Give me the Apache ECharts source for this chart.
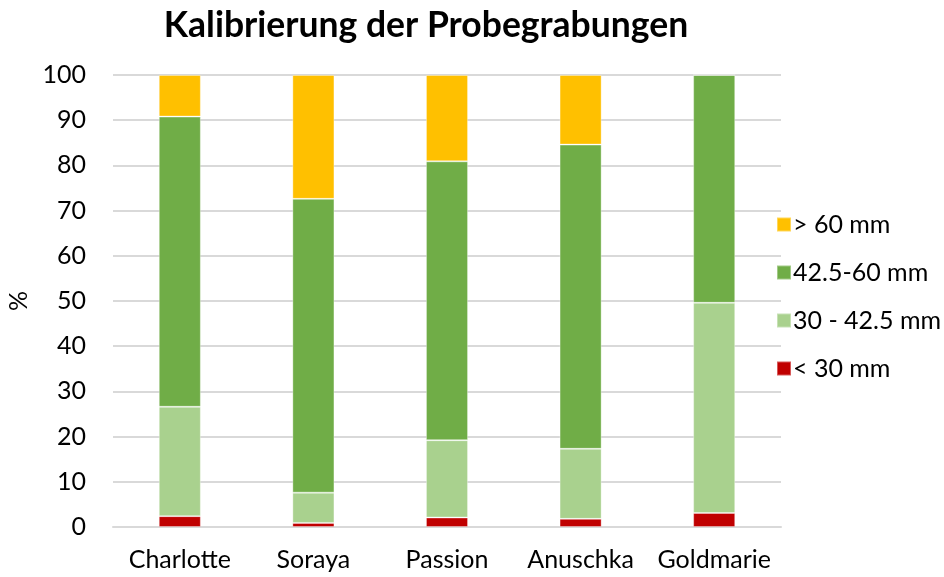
<!DOCTYPE html>
<html>
<head>
<meta charset="utf-8">
<script src="https://cdn.jsdelivr.net/npm/echarts@6/dist/echarts.min.js"></script>
<style>
  html, body { margin: 0; padding: 0; background: #fff; }
  #chart { width: 944px; height: 577px; }
</style>
</head>
<body>
<div id="chart"></div>
<script>
// Sorten
var categories = ['Charlotte', 'Soraya', 'Passion', 'Anuschka', 'Goldmarie'];
// Anteile in % je Größenklasse
var under30 = [2.4, 0.9, 2.1, 1.8, 3.1];
var from30 = [24.2, 6.7, 17.1, 15.5, 46.5];
var from42 = [64.2, 65.0, 61.7, 67.3, 50.4];
var over60 = [9.2, 27.4, 19.1, 15.4, 0];
var seriesNames = ['< 30 mm', '30 - 42.5 mm', '42.5-60 mm', '> 60 mm'];
var yTicks = [0, 10, 20, 30, 40, 50, 60, 70, 80, 90, 100];

var font = 'Lato, "Open Sans", sans-serif';
var chart = echarts.init(document.getElementById('chart'));

function bar(name, data, color) {
	return {
		name: name,
		type: 'bar',
		stack: 'total',
		barWidth: '31.5%',
		data: data,
		itemStyle: { color: color, borderColor: 'rgba(255,255,255,0.35)', borderWidth: 1 }
	};
}

var option = {
	animation: false,
	title: {
		text: 'Kalibrierung der Probegrabungen',
		left: 421,
		top: 3,
		textAlign: 'center',
		textStyle: { fontFamily: font, fontSize: 35.5, fontWeight: 'bold', color: '#000' }
	},
	legend: {
		orient: 'vertical',
		left: 771,
		top: 207,
		itemWidth: 14,
		itemHeight: 14,
		itemGap: 23,
		icon: 'rect',
		data: ['> 60 mm', '42.5-60 mm', '30 - 42.5 mm', '< 30 mm'],
		textStyle: { fontFamily: font, fontSize: 25, lineHeight: 25, color: '#000', padding: [0, 0, 0, -3] }
	},
	grid: { left: 113, right: 163, top: 75, bottom: 50, outerBoundsMode: 'none', containLabel: false },
	xAxis: {
		type: 'category',
		data: categories,
		axisTick: { show: false },
		axisLine: { lineStyle: { color: '#d9d9d9', width: 2 } },
		axisLabel: { fontFamily: font, fontSize: 25, color: '#000', margin: 20, interval: 0, hideOverlap: false }
	},
	yAxis: {
		type: 'value',
		min: yTicks[0],
		max: yTicks[yTicks.length - 1],
		interval: 10,
		name: '%',
		nameLocation: 'middle',
		nameGap: 81,
		nameRotate: 90,
		nameTextStyle: { fontFamily: font, fontSize: 25, color: '#000' },
		axisLabel: { fontFamily: font, fontSize: 25, color: '#000', margin: 27 },
		splitLine: { lineStyle: { color: '#d9d9d9', width: 2 } }
	},
	series: [
		bar(seriesNames[0], under30, '#C00000'),
		bar(seriesNames[1], from30, '#A9D18E'),
		bar(seriesNames[2], from42, '#70AD47'),
		bar(seriesNames[3], over60, '#FFC000')
	]
};
chart.setOption(option);
</script>
</body>
</html>
